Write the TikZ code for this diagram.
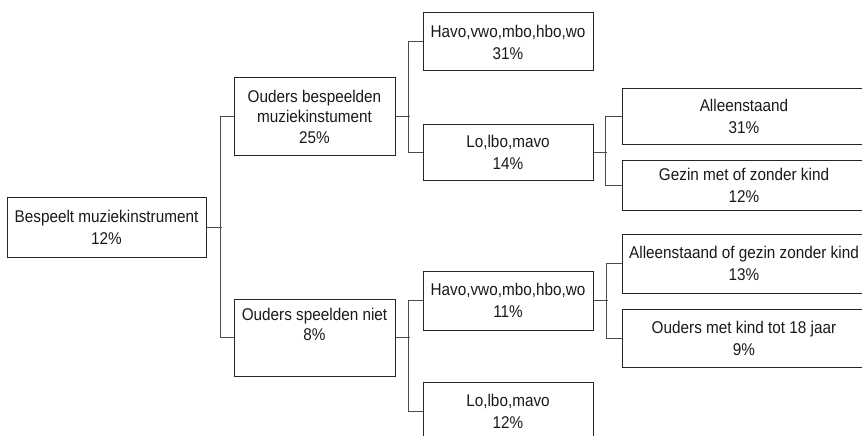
\documentclass[tikz,border=0pt]{standalone}
\usepackage{fontspec}
\setmainfont{Liberation Sans}[FakeStretch=0.9]
\begin{document}
\begin{tikzpicture}[x=1pt,y=-1pt,
  box/.style={draw=black!85, line width=1pt, inner sep=0pt, align=center,
    font=\fontsize{17}{22}\selectfont, text=black!90},
  conn/.style={draw=black!70, line width=1pt}]
\useasboundingbox (0,0) rectangle (862,436);
\clip (0,0) rectangle (862,436);
% level 0
\node[box, minimum width=199pt, minimum height=60pt] (root) at (106.5,227) {Bespeelt muziekinstrument\\12\%};
% level 1
\node[box, minimum width=161pt, minimum height=77pt, font=\fontsize{17}{20.5}\selectfont] (ob) at (314.5,116.5) {Ouders bespeelden\\muziekinstument\\25\%};
\node[box, minimum width=161pt, minimum height=77pt, font=\fontsize{17}{20.5}\selectfont] (os) at (314.5,337.5) {Ouders speelden niet\\8\%\\\strut};
% level 2
\node[box, minimum width=170pt, minimum height=58pt] (h1) at (508,42) {Havo,vwo,mbo,hbo,wo\\31\%};
\node[box, minimum width=170pt, minimum height=56pt] (l1) at (508,152) {Lo,lbo,mavo\\14\%};
\node[box, minimum width=170pt, minimum height=59pt] (h2) at (508,300.5) {Havo,vwo,mbo,hbo,wo\\11\%};
\node[box, minimum width=170pt, minimum height=58pt] (l2) at (508,411) {Lo,lbo,mavo\\12\%};
% level 3
\node[box, minimum width=244pt, minimum height=56pt] (a1) at (744,116) {Alleenstaand\\31\%};
\node[box, minimum width=244pt, minimum height=50pt] (g1) at (744,185) {Gezin met of zonder kind\\12\%};
\node[box, minimum width=244pt, minimum height=59pt] (a2) at (744,263.5) {Alleenstaand of gezin zonder kind\\13\%};
\node[box, minimum width=244pt, minimum height=58pt] (o2) at (744,338) {Ouders met kind tot 18 jaar\\9\%};
% connectors
\draw[conn] (root.east) -- ++(15,0);
\draw[conn] (ob.west) -- ++(-13,0) |- (os.west);
\draw[conn] (ob.east) -- ++(14,0);
\draw[conn] (h1.west) -- ++(-14,0) |- (l1.west);
\draw[conn] (l1.east) -- ++(13,0);
\draw[conn] (a1.west) -- ++(-16,0) |- (g1.west);
\draw[conn] (os.east) -- ++(14,0);
\draw[conn] (h2.west) -- ++(-14,0) |- (l2.west);
\draw[conn] (h2.east) -- ++(14,0);
\draw[conn] (a2.west) -- ++(-15,0) |- (o2.west);
\end{tikzpicture}
\end{document}
